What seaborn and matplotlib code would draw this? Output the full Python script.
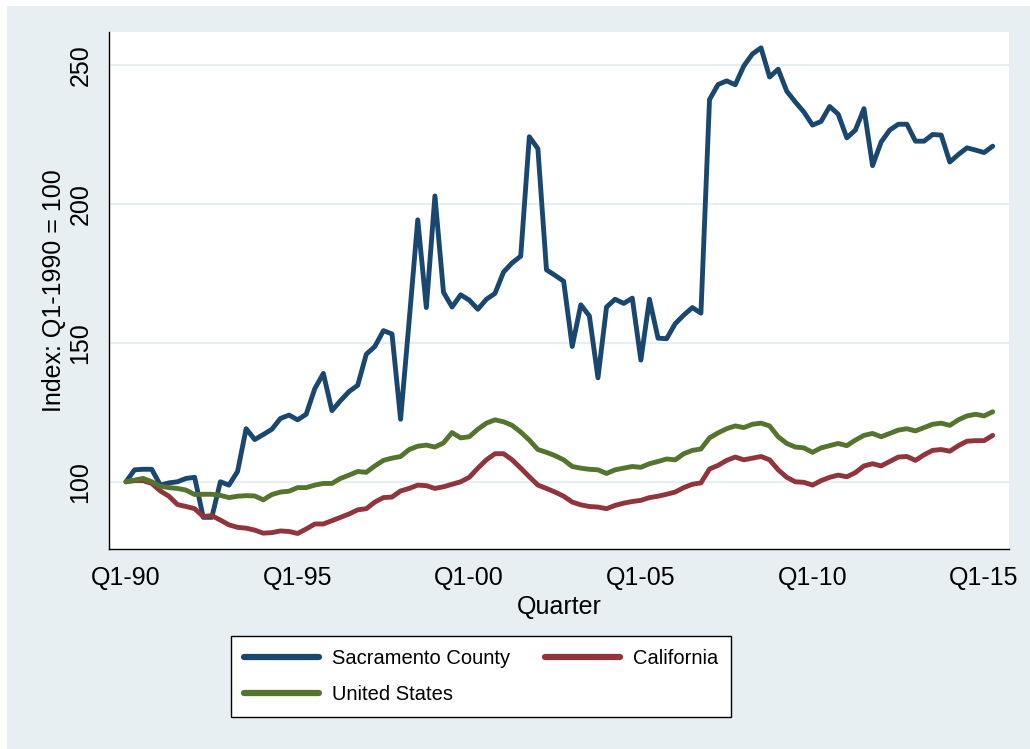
import numpy as np
import pandas as pd
import matplotlib
matplotlib.use("Agg")
import matplotlib.pyplot as plt
import seaborn as sns
from matplotlib.patches import Rectangle

# -------------------------
# Data: quarterly index, Q1-1990 = 100 (Q1-1990 .. Q2-2015)
# -------------------------
sacramento = [100, 104.3, 104.5, 104.5, 98.8, 99.6, 100, 101.2, 101.6, 87.2,
              87.2, 100, 98.8, 103.7, 119.1, 115.2, 117, 118.9, 122.8, 124,
              122.3, 124.3, 133.5, 139, 125.6, 129.2, 132.5, 134.7, 145.9, 148.7,
              154.4, 153.2, 122.5, 158, 194.3, 162.7, 202.9, 168.2, 162.9, 167.3,
              165.4, 162.1, 165.7, 167.8, 175.5, 178.8, 181.2, 224.2, 219.9, 176.3,
              174.3, 172.2, 148.7, 163.7, 159.7, 137.4, 162.9, 165.7, 164.2, 166.1,
              143.8, 165.7, 151.7, 151.5, 156.9, 160, 162.7, 160.7, 237.6, 243.0,
              244.3, 242.9, 249.7, 254, 256.2, 245.7, 248.5, 240.6, 236.7, 233.1,
              228.4, 229.7, 235.1, 232.3, 223.8, 226.6, 234.3, 213.8, 222.3, 226.6,
              228.7, 228.7, 222.6, 222.6, 225, 224.8, 215.1, 217.8, 220.2, 219.4,
              218.5, 220.8]

california = [100, 100.4, 100.4, 99.4, 96.7, 94.8, 91.8, 91.1, 90.3, 87.5,
              87.8, 86.2, 84.5, 83.6, 83.3, 82.6, 81.5, 81.7, 82.3, 82.1,
              81.4, 83, 84.8, 84.8, 86, 87.2, 88.4, 89.9, 90.3, 92.7,
              94.3, 94.5, 96.7, 97.6, 98.8, 98.6, 97.6, 98.2, 99.1, 100,
              101.6, 104.9, 107.9, 110.1, 110.1, 107.9, 104.9, 101.8, 98.8, 97.6,
              96.3, 94.8, 92.7, 91.7, 91.1, 90.9, 90.3, 91.5, 92.3, 92.9,
              93.3, 94.3, 94.8, 95.5, 96.3, 97.9, 99.1, 99.6, 104.6, 105.9,
              107.7, 108.9, 107.9, 108.5, 109.1, 107.9, 104.3, 101.6, 100, 99.8,
              98.8, 100.4, 101.6, 102.4, 101.8, 103.3, 105.7, 106.5, 105.7, 107.3,
              108.9, 109.1, 107.7, 109.7, 111.3, 111.6, 111, 113, 114.6, 114.8,
              114.8, 116.7]

united_states = [100, 100.6, 101.2, 100, 98.4, 97.9, 97.6, 97, 95.4, 95.5,
                 95.5, 95.1, 94.3, 94.8, 95, 94.9, 93.5, 95.4, 96.3, 96.6,
                 97.9, 97.9, 98.8, 99.4, 99.4, 101.2, 102.4, 103.7, 103.4, 105.7,
                 107.7, 108.5, 109.1, 111.6, 112.8, 113.2, 112.5, 114, 117.7, 115.8,
                 116.2, 118.9, 121.1, 122.3, 121.6, 120.3, 117.9, 115, 111.6, 110.6,
                 109.4, 107.9, 105.5, 104.9, 104.5, 104.3, 103, 104.3, 104.9, 105.5,
                 105.2, 106.5, 107.3, 108.2, 107.9, 110.1, 111.3, 111.8, 115.8, 117.6,
                 119.1, 120.1, 119.5, 120.7, 121.1, 120.1, 116.2, 113.8, 112.5, 112.2,
                 110.6, 112.2, 113, 113.8, 113, 115, 116.7, 117.4, 116.2, 117.4,
                 118.6, 119.1, 118.3, 119.5, 120.7, 121.1, 120.3, 122.3, 123.7, 124.3,
                 123.7, 125.2]

series_names = ["Sacramento County", "California", "United States"]
series_colors = ["#1a476f", "#90353b", "#55752f"]
tick_labels = ["Q1-90", "Q1-95", "Q1-00", "Q1-05", "Q1-10", "Q1-15"]
y_ticks = [100, 150, 200, 250]

# -------------------------
# Long-form table for seaborn
# -------------------------
quarter = np.arange(len(sacramento))
df = pd.concat([
    pd.DataFrame({"quarter": quarter, "index": vals, "series": name})
    for name, vals in zip(series_names, [sacramento, california, united_states])
])

# -------------------------
# Plot
# -------------------------
sns.set_theme(style="white")
plt.rcParams["font.family"] = ["Liberation Sans", "DejaVu Sans"]
plt.rcParams["text.color"] = "black"
plt.rcParams["axes.labelcolor"] = "black"

bg = "#e8eff2"
fig = plt.figure(figsize=(10.3, 7.49), dpi=100, facecolor="white")
fig.patches.append(Rectangle((7 / 1030, 0), 1, 1 - 6 / 749, transform=fig.transFigure,
                             facecolor=bg, edgecolor="none", zorder=-10))
ax = fig.add_axes([109 / 1030, 200 / 749, 900 / 1030, 517 / 749])
ax.set_facecolor("white")

sns.lineplot(data=df, x="quarter", y="index", hue="series",
             hue_order=series_names, palette=series_colors,
             linewidth=3.5, ax=ax, legend=False)
for line in ax.lines:
    line.set_solid_joinstyle("round")
    line.set_solid_capstyle("round")

ax.set_xlim(-1.98, 102.9)
ax.set_ylim(75.8, 261.9)
ax.set_xticks(np.arange(0, 101, 20))
ax.set_xticklabels(tick_labels)
ax.set_yticks(y_ticks)
ax.set_yticklabels([str(v) for v in y_ticks], rotation=90, va="center")
ax.yaxis.grid(True, color=bg, linewidth=1.6)
ax.set_axisbelow(True)

for side in ["top", "right"]:
    ax.spines[side].set_visible(False)
for side in ["left", "bottom"]:
    ax.spines[side].set_color("black")
    ax.spines[side].set_linewidth(1.0)

ax.tick_params(axis="both", direction="out", length=8, width=1.0, color="black",
               labelsize=18, labelcolor="black")
ax.tick_params(axis="x", pad=4.5)
ax.tick_params(axis="y", pad=4)

ax.set_xlabel("Quarter", fontsize=18, labelpad=3, color="black")
ax.set_ylabel("Index: Q1-1990 = 100", fontsize=18, labelpad=1.5, color="black")

# legend order gives row 1: Sacramento, California / row 2: United States
handles = [plt.Line2D([], [], color=c, linewidth=4.5) for c in series_colors]
order = [0, 2, 1]
leg = fig.legend([handles[i] for i in order], [series_names[i] for i in order],
                 ncol=2, loc="center", bbox_to_anchor=(481 / 1030, 1 - 676.5 / 749),
                 fontsize=14.5, frameon=True, fancybox=False, edgecolor="black",
                 facecolor="white", framealpha=1, handlelength=3.7,
                 handletextpad=0.65, columnspacing=1.75, borderpad=0.65,
                 labelspacing=0.85)
leg.get_frame().set_linewidth(1.0)
for t in leg.get_texts():
    t.set_color("black")

fig.savefig("out.png", dpi=100, facecolor=fig.get_facecolor())
